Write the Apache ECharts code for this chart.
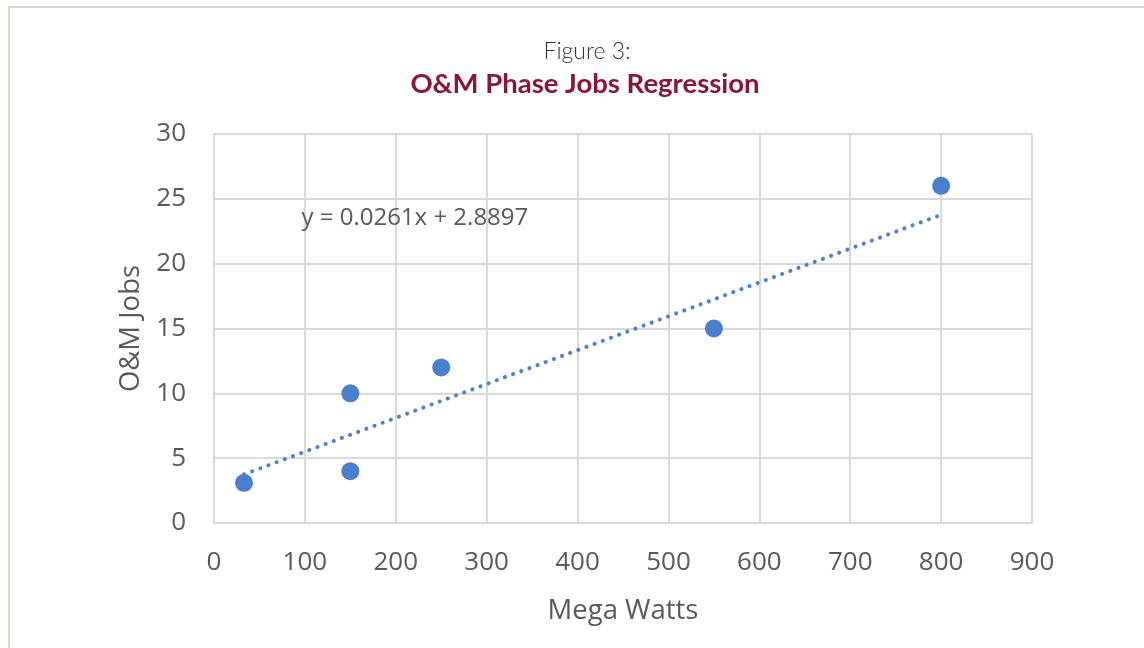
<!DOCTYPE html>
<html><head><meta charset="utf-8">
<script src="https://cdn.jsdelivr.net/npm/echarts@6/dist/echarts.min.js"></script>
<style>
html,body{margin:0;padding:0;background:#fff;}
#wrap{position:relative;width:1144px;height:648px;overflow:hidden;}
#frame{position:absolute;left:8px;top:6px;width:1200px;height:700px;border-top:2px solid #ddd4cb;border-left:2px solid #ddd4cb;box-sizing:border-box;}
#chart{position:absolute;left:0;top:0;width:1144px;height:648px;}
</style></head>
<body><div id="wrap"><div id="frame"></div><div id="chart"></div></div>
<script>
const megaWatts = [33, 150, 150, 250, 550, 800];
const omJobs    = [3.1, 4, 10, 12, 15, 26];
const trendX = [33, 800];
const trendY = [3.75, 23.77];
const xTicks = [0, 100, 200, 300, 400, 500, 600, 700, 800, 900];
const yTicks = [0, 5, 10, 15, 20, 25, 30];
const titleTop = 'Figure 3:';
const titleMain = 'O&M Phase Jobs Regression';
const equation = 'y = 0.0261x + 2.8897';

const chart = echarts.init(document.getElementById('chart'), null, {renderer:'canvas'});
const labelColor = '#595959';
const gridColor = '#d9d9d9';
chart.setOption({
  backgroundColor: 'transparent',
  animation: false,
  title: [
    {text: titleTop, left: 582, top: 35, textAlign: 'center',
     textStyle: {fontFamily: 'Lato', fontWeight: 300, fontSize: 23, color: '#333'}},
    {text: titleMain, left: 580, top: 65, textAlign: 'center',
     textStyle: {fontFamily: 'Lato', fontWeight: 'bold', fontSize: 27.5, color: '#8a1538'}}
  ],
  grid: {left: 214, right: 112, top: 134, bottom: 125},
  xAxis: {
    type: 'value', min: xTicks[0], max: xTicks[xTicks.length-1], interval: 100,
    name: 'Mega Watts', nameLocation: 'middle', nameGap: 74,
    nameTextStyle: {fontFamily: 'Open Sans', fontSize: 27.5, color: labelColor},
    axisLine: {show: true, lineStyle: {color: gridColor, width: 2}},
    axisTick: {show: false},
    axisLabel: {fontFamily: 'Open Sans', fontSize: 26, color: labelColor, margin: 27},
    splitLine: {show: true, lineStyle: {color: gridColor, width: 2}}
  },
  yAxis: {
    type: 'value', min: yTicks[0], max: yTicks[yTicks.length-1], interval: 5,
    name: 'O&M Jobs', nameLocation: 'middle', nameGap: 68,
    nameTextStyle: {fontFamily: 'Open Sans', fontSize: 27.5, color: labelColor},
    axisLine: {show: true, lineStyle: {color: gridColor, width: 2}},
    axisTick: {show: false},
    axisLabel: {fontFamily: 'Open Sans', fontSize: 26, color: labelColor, margin: 28},
    splitLine: {show: true, lineStyle: {color: gridColor, width: 2}}
  },
  series: [
    {
      type: 'line', data: trendX.map((x, i) => [x, trendY[i]]),
      symbol: 'none', z: 2,
      lineStyle: {color: '#4a80d0', width: 4, type: [0.1, 8.6], cap: 'round'},
      markPoint: {
        symbol: 'rect', symbolSize: 1, itemStyle: {color: 'transparent'},
        data: [{coord: [221, 23.5], label: {show: true, formatter: equation, position: 'inside',
          fontFamily: 'Open Sans', fontSize: 24, color: labelColor}}]
      }
    },
    {
      type: 'scatter', data: megaWatts.map((x, i) => [x, omJobs[i]]),
      symbolSize: 18, z: 3,
      itemStyle: {color: '#4a7fcf', opacity: 1}
    }
  ]
});
</script></body></html>
